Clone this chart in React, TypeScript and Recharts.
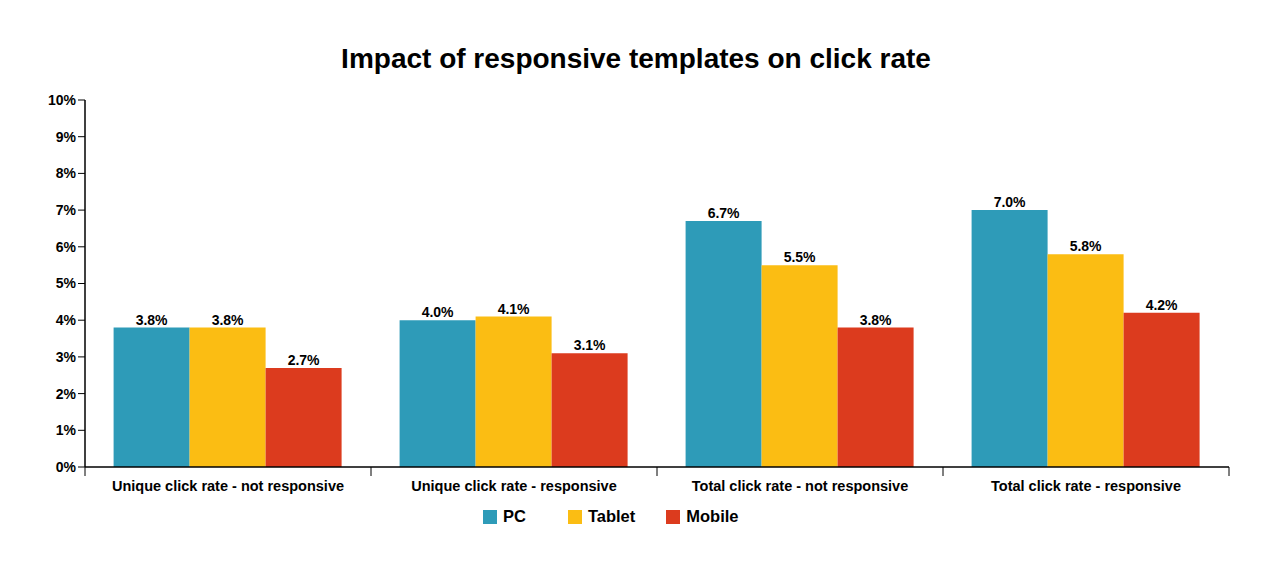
import { BarChart, Bar, XAxis, YAxis, LabelList } from 'recharts';

const categories = [
  'Unique click rate - not responsive',
  'Unique click rate - responsive',
  'Total click rate - not responsive',
  'Total click rate - responsive',
];
const pcValues = [3.8, 4.0, 6.7, 7.0];
const tabletValues = [3.8, 4.1, 5.5, 5.8];
const mobileValues = [2.7, 3.1, 3.8, 4.2];
const yTicks = [0, 1, 2, 3, 4, 5, 6, 7, 8, 9, 10];

const series = [
  { key: 'pc', name: 'PC', color: '#2E9BB8', gap: 0 },
  { key: 'tablet', name: 'Tablet', color: '#FBBD13', gap: 42 },
  { key: 'mobile', name: 'Mobile', color: '#DC3B1E', gap: 31 },
];

const data = categories.map((name, i) => ({
  name,
  pc: pcValues[i],
  tablet: tabletValues[i],
  mobile: mobileValues[i],
}));

const FONT = '"Liberation Sans", Arial, sans-serif';

const CategoryTick = (props: any) => {
  const { x, y, payload, index } = props;
  const half = payload && payload.offset ? payload.offset : 143;
  return (
    <g>
      <line x1={x - half} y1={y - 8} x2={x - half} y2={y + 1} stroke="#000" strokeWidth={1} />
      {index === categories.length - 1 && (
        <line x1={x + half} y1={y - 8} x2={x + half} y2={y + 1} stroke="#000" strokeWidth={1} />
      )}
      <text x={x} y={y + 16} textAnchor="middle" fontFamily={FONT} fontSize={14.5} fontWeight="bold" fill="#000">
        {payload.value}
      </text>
    </g>
  );
};

export default function App() {
  return (
    <div style={{ position: 'absolute', left: 0, top: 0, width: 1272, height: 580, background: '#fff' }}>
      <div
        style={{
          position: 'absolute',
          top: 43,
          left: 0,
          width: 1272,
          textAlign: 'center',
          fontFamily: FONT,
          fontWeight: 'bold',
          fontSize: 28,
          lineHeight: 'normal',
          color: '#000',
        }}
      >
        Impact of responsive templates on click rate
      </div>
      <BarChart
        width={1272}
        height={580}
        data={data}
        margin={{ top: 100, right: 43, bottom: 83, left: 0 }}
        barCategoryGap="10%"
        barGap={0}
      >
        <XAxis
          dataKey="name"
          tickLine={false}
          axisLine={{ stroke: '#000', strokeWidth: 1.5 }}
          tick={<CategoryTick />}
          height={30}
          interval={0}
        />
        <YAxis
          width={85}
          domain={[0, 10]}
          ticks={yTicks}
          interval={0}
          tickFormatter={(v: number) => `${v}%`}
          axisLine={{ stroke: '#000', strokeWidth: 1.5 }}
          tickLine={{ stroke: '#000' }}
          tickSize={7}
          tick={{ fill: '#000', fontSize: 14, fontWeight: 'bold', fontFamily: FONT }}
        />
        {series.map((s) => (
          <Bar key={s.key} dataKey={s.key} name={s.name} fill={s.color} isAnimationActive={false}>
            <LabelList
              dataKey={s.key}
              position="top"
              offset={3}
              formatter={(v: number) => `${v.toFixed(1)}%`}
              style={{ fill: '#000', fontSize: 14, fontWeight: 'bold', fontFamily: FONT }}
            />
          </Bar>
        ))}
      </BarChart>
      <div
        style={{
          position: 'absolute',
          top: 507,
          left: 483,
          display: 'flex',
          alignItems: 'center',
          fontFamily: FONT,
          fontWeight: 'bold',
          fontSize: 16.5,
          color: '#000',
        }}
      >
        {series.map((s) => (
          <div key={s.key} style={{ display: 'flex', alignItems: 'center', marginLeft: s.gap }}>
            <span style={{ display: 'inline-block', width: 14, height: 14, background: s.color, marginRight: 6 }} />
            <span>{s.name}</span>
          </div>
        ))}
      </div>
    </div>
  );
}
